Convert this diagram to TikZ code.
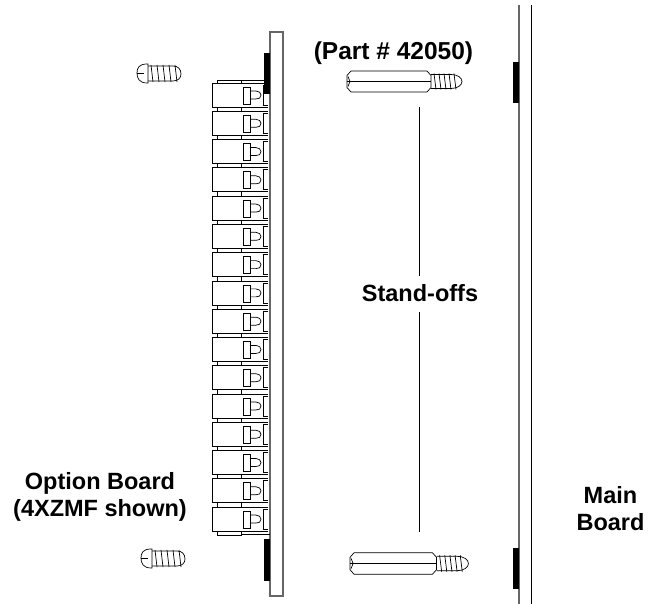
\documentclass[tikz,border=0pt]{standalone}
\usepackage{fontspec}
\setsansfont{Liberation Sans}
\tikzset{
    pics/screw/.style={code={
        \draw (11,-9) -- (10,-9) .. controls (2,-9) and (0,-5) .. (0,0) .. controls (0,5) and (2,10) .. (10,10) -- (11,10) -- cycle;
        \draw (0,0) -- (7,0);
        \draw (11,-7) -- (36,-7) .. controls (41,-7) and (44,-4) .. (44,1) .. controls (44,5) and (41,8) .. (36,8) -- (11,8);
        \foreach \k in {0,...,4}
            \draw (14+6*\k,-8) -- (16+6*\k,9);
    }},
    pics/standoff/.style={code={
        \draw (4,-10.5) -- (80,-10.5) -- (84,-6) -- (84,6) -- (80,10.5) -- (4,10.5) -- (0,6) -- (0,-6) -- cycle;
        \draw (0,0) -- (84,0);
        \draw (1,-5) -- (3,0) -- (1,5);
        \draw (84,-7) -- (104,-7) .. controls (110,-7) and (115,-4) .. (115,0) .. controls (115,4) and (110,7) .. (104,7) -- (84,7);
        \foreach \k in {0,...,4}
            \draw (87+5*\k,-8) -- (89+5*\k,8);
    }},
    pics/terminal/.style={code={
        \draw (268,-12) -- (212,-12) -- (212,12) -- (268,12);
        \draw (243,-8) rectangle (250,9);
        \draw (250,-4) -- (256,-4) .. controls (259,-4) and (261,-2) .. (261,0) .. controls (261,3) and (259,4) .. (256,4) -- (250,4);
        \draw (268,-10) -- (263,-10) -- (263,10) -- (268,10);
        \draw (217,12) rectangle (241,16.3);
    }}
}
\begin{document}
\begin{tikzpicture}[x=1pt,y=-1pt,line width=0.7pt,label node/.style={font=\sffamily\bfseries\fontsize{23.5}{27}\selectfont,align=center,inner sep=0pt},pad/.style={fill=black,draw=none},rail/.style={draw=black!60,line width=1.2pt}]
    \useasboundingbox (0,0) rectangle (649,604);

    % option board
    \draw[rail] (270,32) -- (283,32) -- (283,596) -- (270,596) -- cycle;
    \fill[pad] (264,53) rectangle (270,94);
    \fill[pad] (264,539) rectangle (270,581);

    % terminals
    \draw (217,83) -- (217,80) -- (270,80);
    \draw (241,80) -- (241,83);
    \foreach \row in {0,...,15}
        \pic at (0,95+28.27*\row) {terminal};
    \draw (241,534) -- (270,534);

    % main board
    \draw[rail] (519,5) -- (519,604);
    \draw[line width=1pt] (531,5) -- (531,604);
    \fill[pad] (513,62) rectangle (519,103);
    \fill[pad] (513,548) rectangle (519,589);

    % hardware
    \pic at (137,73) {screw};
    \pic at (141,558) {screw};
    \pic at (347,81.5) {standoff};
    \pic[scale=1.03] at (350,563.5) {standoff};

    % labels
    \node[label node,font=\sffamily\bfseries\fontsize{24.5}{27}\selectfont] (part) at (393.5,53) {(Part \# 42050)};
    \node[label node] (standoffs) at (420,293) {Stand-offs};
    \node[label node] (option) at (100,497) {Option Board\\(4XZMF shown)};
    \node[label node] (main) at (610.5,508.5) {Main\\Board};

    \coordinate (upper) at (419.5,107);
    \coordinate (lower) at (419.5,532);
    \draw (upper) -- (419.5,276);
    \draw (419.5,312) -- (lower);
\end{tikzpicture}
\end{document}
